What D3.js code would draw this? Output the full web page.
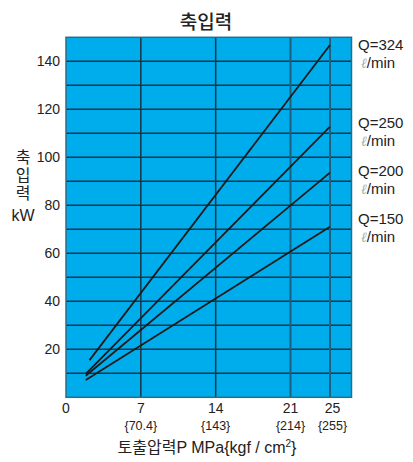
<!DOCTYPE html>
<html><head><meta charset="utf-8">
<script src="https://cdn.jsdelivr.net/npm/d3@7"></script>
<style>body{margin:0;background:#fff}</style>
</head><body><svg id="c" width="413" height="462"></svg>
<script>
// Data
const xTicks = [0, 7, 14, 21, 25];
const xTickSub = ["", "{70.4}", "{143}", "{214}", "{255}"];
const yTicks = [20, 40, 60, 80, 100, 120, 140];
const yGrid = [10, 20, 30, 40, 50, 60, 70, 80, 90, 100, 110, 120, 130, 140];
const xGrid = [7, 14, 21, 25];
const seriesNames = ["Q=324", "Q=250", "Q=200", "Q=150"];
const q324 = [[2.2, 15.5], [25, 146.8]];
const q250 = [[1.85, 9.8], [25, 112.8]];
const q200 = [[1.85, 9.0], [25, 93.6]];
const q150 = [[1.85, 7.2], [25, 71.1]];
const seriesData = [q324, q250, q200, q150];

const svg = d3.select("#c");
const x = d3.scaleLinear().domain([0, 21, 25, 26.9]).range([66, 290.5, 330, 351.5]);
const y = d3.scaleLinear().domain([0, 150]).range([397.3, 37.3]);

const latin = "'Liberation Sans', Arial, sans-serif";
const kr = "'Noto Sans CJK KR', 'Liberation Sans', sans-serif";

svg.append("rect").attr("x", x(0)).attr("y", y(150)).attr("width", x(26.9) - x(0)).attr("height", y(0) - y(150))
  .attr("fill", "#00adec");

svg.selectAll(".hg").data(yGrid).join("line")
  .attr("x1", x(0)).attr("x2", x(26.9)).attr("y1", d => y(d)).attr("y2", d => y(d))
  .attr("stroke", "#1c3344").attr("stroke-width", 1.4);

svg.selectAll(".vg").data(xGrid).join("line")
  .attr("x1", d => x(d)).attr("x2", d => x(d)).attr("y1", y(0)).attr("y2", y(150))
  .attr("stroke", d => d > 14 ? "#1d5f7c" : "#1c3344").attr("stroke-width", d => d > 14 ? 2 : 1.5);

svg.append("rect").attr("x", x(0)).attr("y", y(150)).attr("width", x(26.9) - x(0)).attr("height", y(0) - y(150))
  .attr("fill", "none").attr("stroke", "#2a6d88").attr("stroke-width", 1.5);

const line = d3.line().x(d => x(d[0])).y(d => y(d[1]));
svg.selectAll(".s").data(seriesData).join("path")
  .attr("d", line).attr("fill", "none").attr("stroke", "#1a1a1a").attr("stroke-width", 1.8);

// y tick labels
svg.selectAll(".yt").data(yTicks).join("text")
  .attr("x", 60).attr("y", d => y(d)).attr("dy", "0.36em").attr("text-anchor", "end")
  .attr("font-family", latin).attr("font-size", 14).attr("fill", "#222").text(d => d);

// x tick labels
svg.selectAll(".xt").data(xTicks).join("text")
  .attr("x", d => d === 25 ? x(d) + 2.5 : x(d)).attr("y", 413).attr("text-anchor", "middle")
  .attr("font-family", latin).attr("font-size", 14).attr("fill", "#222").text(d => d);
svg.selectAll(".xs").data(xTicks).join("text")
  .attr("x", d => d === 25 ? x(d) + 2.5 : x(d)).attr("y", 430).attr("text-anchor", "middle")
  .attr("font-family", latin).attr("font-size", 12.5).attr("fill", "#222").text((d, i) => xTickSub[i]);

// title
svg.append("text").attr("x", 206).attr("y", 29).attr("text-anchor", "middle")
  .attr("font-family", kr).attr("font-size", 19).attr("font-weight", 500).attr("fill", "#222").text("축입력");

// x axis title
const xt = svg.append("text").attr("x", 207).attr("y", 453).attr("text-anchor", "middle")
  .attr("font-family", latin).attr("font-size", 16).attr("fill", "#222");
xt.append("tspan").attr("font-family", kr).text("토출압력");
xt.append("tspan").text("P MPa{kgf / cm");
xt.append("tspan").attr("font-size", 10).attr("dy", -6).text("2");
xt.append("tspan").attr("dy", 6).text("}");

// y axis title (vertical)
svg.append("text").attr("x", 23).attr("y", 149)
  .attr("writing-mode", "vertical-rl").attr("glyph-orientation-vertical", 0)
  .attr("letter-spacing", 2)
  .attr("font-family", kr).attr("font-size", 16).attr("fill", "#222").text("축입력");
svg.append("text").attr("x", 23).attr("y", 215).attr("dy", "0.36em").attr("text-anchor", "middle")
  .attr("font-family", latin).attr("font-size", 16).attr("fill", "#222").text("kW");

// right labels
const labY = [45, 123, 171, 219];
seriesNames.forEach((n, i) => {
  svg.append("text").attr("x", 358).attr("y", labY[i]).attr("dy", "0.36em")
    .attr("font-family", latin).attr("font-size", 15).attr("fill", "#222").text(n);
  const t = svg.append("text").attr("x", 361).attr("y", labY[i] + 18).attr("dy", "0.36em")
    .attr("font-family", latin).attr("font-size", 15).attr("fill", "#222");
  t.append("tspan").attr("fill", "#aaa").attr("font-family", "'Liberation Serif', serif").attr("font-style", "italic").attr("font-size", 14).text("ℓ");
  t.append("tspan").text("/min");
});
</script></body></html>
